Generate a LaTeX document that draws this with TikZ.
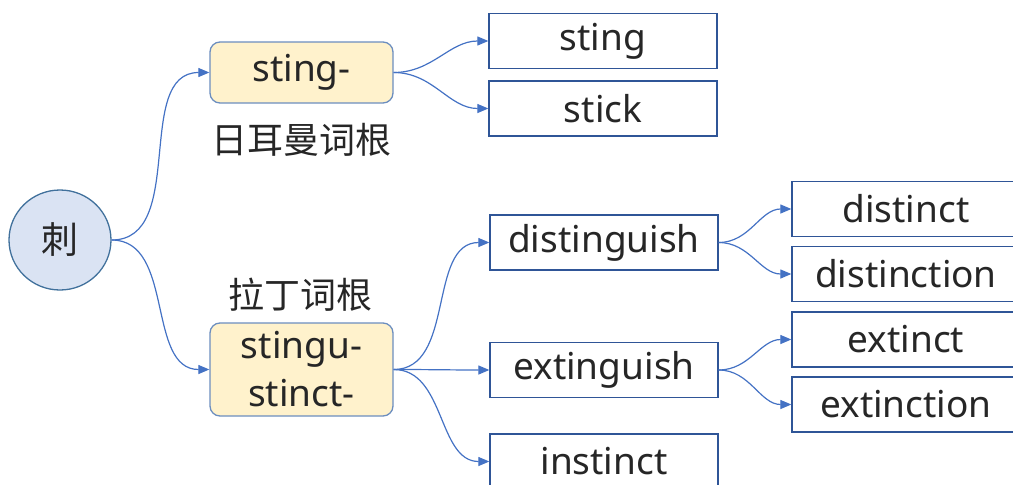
\documentclass[tikz,border=0pt]{standalone}
\usepackage{fontspec}
\setmainfont{Noto Sans}
\newfontfamily\cjk{Noto Sans CJK SC}
\usepackage{xcolor}
\usetikzlibrary{shapes.geometric, arrows.meta, positioning}

\definecolor{linkblue}{RGB}{68,114,196}
\definecolor{edgeblue}{RGB}{47,85,151}
\definecolor{rootfill}{RGB}{218,227,243}
\definecolor{rootedge}{RGB}{65,113,156}
\definecolor{rootboxfill}{RGB}{255,242,204}
\definecolor{rootboxedge}{RGB}{108,142,191}

\begin{document}
\begin{tikzpicture}[
    x=1pt, y=1pt,
    >={Triangle[length=11pt,width=9pt]},
    every node/.style={font=\fontsize{37}{48}\selectfont, text=black!85},
    root/.style={ellipse, draw=rootedge, fill=rootfill, line width=1.3pt, minimum width=102pt, minimum height=100pt, inner sep=0pt},
    rootbox/.style={rectangle, draw=rootboxedge, fill=rootboxfill, rounded corners=10pt, line width=1.3pt, minimum width=183pt, minimum height=#1, align=center, inner sep=0pt},
    rootbox/.default=61pt,
    word/.style={rectangle, draw=edgeblue, fill=white, line width=1.3pt, minimum width=228pt, minimum height=55pt, inner sep=0pt},
    tag/.style={font=\cjk\fontsize{36}{48}\selectfont},
    link/.style={->, draw=linkblue, line width=1.2pt}
]
\clip (0,0) rectangle (1013,-485);

% Root
\node[root] (ci) at (60,-240) {\cjk 刺};

% Germanic branch
\node[rootbox] (sting) at (301.5,-72.5) {sting-};
\node[tag] (germ) at (301,-140) {日耳曼词根};
\node[word] (w-sting) at (603,-41) {sting};
\node[word] (w-stick) at (603,-108.5) {stick};

% Latin branch
\node[tag] (latin) at (300,-295) {拉丁词根};
\node[rootbox=93pt] (stingu) at (301.5,-369.5) {stingu-\\stinct-};
\node[word] (w-disting) at (604,-242.5) {distinguish};
\node[word] (w-exting) at (604,-370) {extinguish};
\node[word] (w-instinct) at (604,-461.5) {instinct};

% Third level
\node[word] (w-distinct) at (906,-209) {distinct};
\node[word] (w-distinction) at (906,-274) {distinction};
\node[word] (w-extinct) at (906,-339.5) {extinct};
\node[word] (w-extinction) at (906,-404.5) {extinction};

% ---- LINKS ----
\draw[link] (ci.east) to[out=0, in=180] (sting.west);
\draw[link] (ci.east) to[out=0, in=180] (stingu.west);

\draw[link] (sting.east) to[out=0, in=180] (w-sting.west);
\draw[link] (sting.east) to[out=0, in=180] (w-stick.west);

\draw[link] (stingu.east) to[out=0, in=180] (w-disting.west);
\draw[link] (stingu.east) to[out=0, in=180] (w-exting.west);
\draw[link] (stingu.east) to[out=0, in=180] (w-instinct.west);

\draw[link] (w-disting.east) to[out=0, in=180] (w-distinct.west);
\draw[link] (w-disting.east) to[out=0, in=180] (w-distinction.west);
\draw[link] (w-exting.east) to[out=0, in=180] (w-extinct.west);
\draw[link] (w-exting.east) to[out=0, in=180] (w-extinction.west);

\end{tikzpicture}
\end{document}
